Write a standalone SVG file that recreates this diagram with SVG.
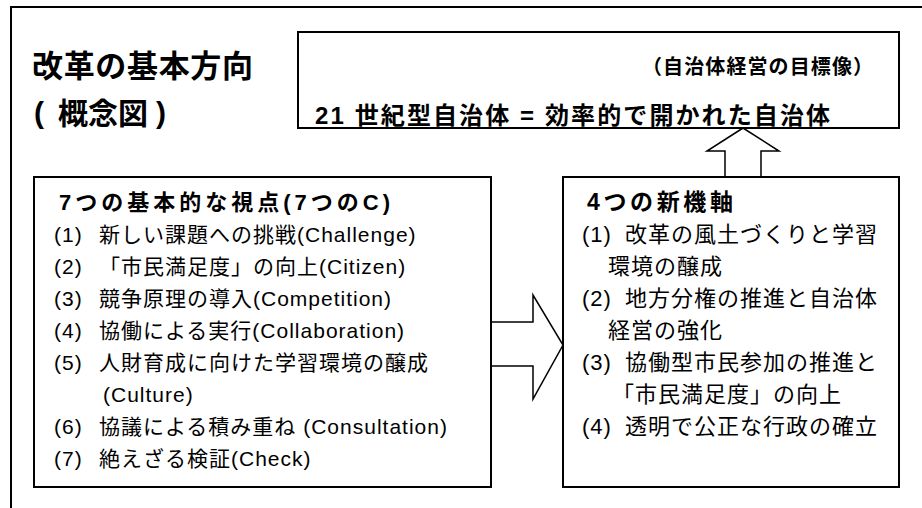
<svg xmlns="http://www.w3.org/2000/svg" width="922" height="508" viewBox="0 0 922 508">
<style>
text{font-family:"Liberation Sans","Noto Sans CJK JP",sans-serif;fill:#000}
.b{font-weight:bold}
.box{fill:#fff;stroke:#000;stroke-width:2}
.arr{fill:#fff;stroke:#000;stroke-width:1.5}
.li{font-size:21px;letter-spacing:1px}
.ri{font-size:22px;letter-spacing:1px}
</style>
<rect width="922" height="508" fill="#fff"/>
<path d="M11,508 V7 H922" fill="none" stroke="#000" stroke-width="2"/>
<g id="title">
<text class="b" x="32" y="77" font-size="31" textLength="221" lengthAdjust="spacing">改革の基本方向</text>
<text class="b" x="34" y="123" font-size="30">(</text>
<text class="b" x="58" y="124" font-size="30">概念図</text>
<text class="b" x="156" y="123" font-size="30">)</text>
</g>
<g id="connectors">
<polygon class="arr" points="725,177 725,151 707,151 743,128 779,151 761,151 761,177"/>
<polygon class="arr" points="491,322 533,322 533,295 563,345 533,399 533,366 491,366"/>
</g>
<g id="goal">
<rect class="box" x="298" y="32" width="601" height="96"/>
<text class="b" x="642" y="74" font-size="20" textLength="231" lengthAdjust="spacing">（自治体経営の目標像）</text>
<text class="b" x="315" y="124" font-size="24" textLength="515" lengthAdjust="spacing">21 世紀型自治体 = 効率的で開かれた自治体</text>
</g>
<g id="seven-c">
<rect class="box" x="34" y="177" width="457" height="310"/>
<text class="b" x="59" y="210" font-size="22" textLength="331" lengthAdjust="spacing">7つの基本的な視点(7つのC)</text>
<g class="li">
<text x="54" y="242">(1)</text><text x="99" y="242">新しい課題への挑戦(Challenge)</text>
<text x="54" y="274">(2)</text><text x="99" y="274">「市民満足度」の向上(Citizen)</text>
<text x="54" y="306">(3)</text><text x="99" y="306">競争原理の導入(Competition)</text>
<text x="54" y="338">(4)</text><text x="99" y="338">協働による実行(Collaboration)</text>
<text x="54" y="370">(5)</text><text x="99" y="370">人財育成に向けた学習環境の醸成</text>
<text x="103" y="402">(Culture)</text>
<text x="54" y="434">(6)</text><text x="99" y="434">協議による積み重ね (Consultation)</text>
<text x="54" y="466">(7)</text><text x="99" y="466">絶えざる検証(Check)</text>
</g>
</g>
<g id="four-axes">
<rect class="box" x="563" y="177" width="336" height="310"/>
<text class="b" x="587" y="210" font-size="23" textLength="146" lengthAdjust="spacing">4つの新機軸</text>
<g class="ri">
<text x="582" y="242">(1)</text><text x="625" y="242">改革の風土づくりと学習</text>
<text x="608" y="274">環境の醸成</text>
<text x="582" y="306">(2)</text><text x="625" y="306">地方分権の推進と自治体</text>
<text x="608" y="338">経営の強化</text>
<text x="582" y="370">(3)</text><text x="625" y="370">協働型市民参加の推進と</text>
<text x="612" y="402">「市民満足度」の向上</text>
<text x="582" y="434">(4)</text><text x="625" y="434">透明で公正な行政の確立</text>
</g>
</g>
</svg>
